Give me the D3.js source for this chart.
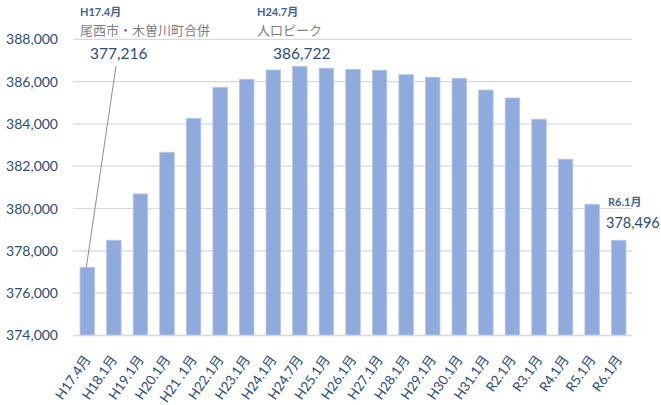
<!DOCTYPE html>
<html>
<head>
<meta charset="utf-8">
<script src="https://cdn.jsdelivr.net/npm/d3@7"></script>
<style>
body { margin:0; background:#fff; }
svg text { font-family: Lato, "Noto Sans CJK JP", sans-serif; }
</style>
</head>
<body>
<div id="chart"></div>
<script>
// categories and population values
var labels = ["H17.4月","H18.1月","H19.1月","H20.1月","H21 .1月","H22.1月","H23.1月","H24.1月","H24.7月","H25.1月","H26.1月",
              "H27.1月","H28.1月","H29.1月","H30.1月","H31.1月","R2.1月","R3.1月","R4.1月","R5.1月","R6.1月"];
var pop = [377216,378500,380690,382660,384265,385730,386110,386550,386722,386630,386580,
           386535,386325,386205,386155,385600,385225,384220,382330,380200,378496];
var yTicks = [374000,376000,378000,380000,382000,384000,386000,388000];

var w = 661, h = 405;
var pLeft = 73, pRight = 632, pTop = 39.3, pBottom = 335.4;

var svg = d3.select("#chart").append("svg").attr("width", w).attr("height", h);

var x = d3.scaleBand().domain(labels).range([pLeft + 1, pRight]).paddingInner(0.455).paddingOuter(0.2275);
var y = d3.scaleLinear().domain([374000, 388000]).range([pBottom, pTop]);

// gridlines
svg.selectAll("line.grid").data(yTicks.slice(1)).enter().append("line")
   .attr("x1", pLeft).attr("x2", pRight)
   .attr("y1", function(d){ return y(d); }).attr("y2", function(d){ return y(d); })
   .attr("stroke", "#d9d9d9").attr("stroke-width", 1.2);

// y labels
svg.selectAll("text.ytick").data(yTicks).enter().append("text")
   .attr("x", 58).attr("y", function(d){ return y(d) + 5; })
   .attr("text-anchor", "end").attr("font-size", 14).attr("fill", "#2a4d78")
   .text(function(d){ return d3.format(",")(d); });

// bars
svg.selectAll("rect.bar").data(pop).enter().append("rect")
   .attr("x", function(d,i){ return x(labels[i]); })
   .attr("width", x.bandwidth())
   .attr("y", function(d){ return y(d); })
   .attr("height", function(d){ return pBottom - y(d); })
   .attr("fill", "#8faadc").attr("stroke", "#b4c7e7").attr("stroke-width", 0.8);

// x axis line
svg.append("line").attr("x1", pLeft).attr("x2", pRight).attr("y1", pBottom).attr("y2", pBottom)
   .attr("stroke", "#d9d9d9").attr("stroke-width", 1.5);

// x labels rotated
svg.selectAll("text.xtick").data(labels).enter().append("text")
   .attr("transform", function(d){ return "translate(" + (x(d) + x.bandwidth()/2 + 4) + "," + (pBottom + 24) + ") rotate(-55)"; })
   .attr("text-anchor", "end").attr("font-size", 13.5).attr("fill", "#2a4d78")
   .text(function(d){ return d; });

// annotations
var notes = [
  {i:0, date:"H17.4月", sub:"尾西市・木曽川町合併", tx:80, vx:90},
  {i:8, date:"H24.7月", sub:"人口ピーク", tx:257, vx:273}
];
notes.forEach(function(n){
  svg.append("text").attr("x", n.tx).attr("y", 16).attr("font-size", 11).attr("font-weight", "bold")
     .attr("fill", "#44628f").text(n.date);
  svg.append("text").attr("x", n.tx).attr("y", 35).attr("font-size", 13).attr("fill", "#7f7f7f").text(n.sub);
  svg.append("text").attr("x", n.vx).attr("y", 59).attr("font-size", 15.5).attr("fill", "#2a4d78")
     .text(d3.format(",")(pop[n.i]));
});

// leader line for first bar
svg.append("line").attr("x1", 116).attr("y1", 66)
   .attr("x2", x(labels[0]) + x.bandwidth()/2 - 1).attr("y2", y(pop[0]))
   .attr("stroke", "#8c8c8c").attr("stroke-width", 1);

// last bar note
var last = pop.length - 1;
svg.append("text").attr("x", 608).attr("y", 206).attr("font-size", 11).attr("font-weight", "bold")
   .attr("fill", "#44628f").text("R6.1月");
svg.append("text").attr("x", 606).attr("y", 228).attr("font-size", 14.5).attr("fill", "#2a4d78")
   .text(d3.format(",")(pop[last]));
</script>
</body>
</html>
